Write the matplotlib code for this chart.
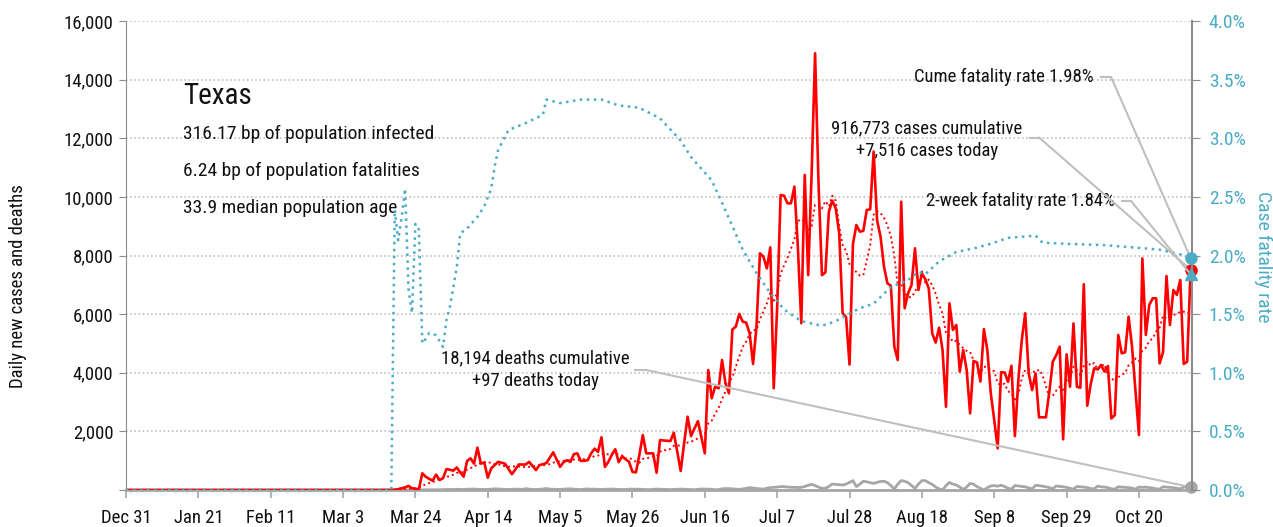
import matplotlib
matplotlib.use("Agg")
import matplotlib.pyplot as plt
import matplotlib.dates as mdates
from matplotlib import font_manager
from matplotlib.ticker import FuncFormatter, MultipleLocator
import pandas as pd


def has_font(name):
    try:
        font_manager.findfont(name, fallback_to_default=False)
        return True
    except ValueError:
        return False


# the original uses a condensed face; take the narrowest one that is installed
if has_font("Roboto Condensed"):
    plt.rcParams['font.family'] = ['Roboto Condensed', 'DejaVu Sans']
    FS_TICK, FS_TXT, FS_NOTE, FS_TITLE = 13.5, 14, 13.4, 21
elif has_font("Liberation Sans Narrow"):
    plt.rcParams['font.family'] = ['Liberation Sans Narrow', 'DejaVu Sans']
    FS_TICK, FS_TXT, FS_NOTE, FS_TITLE = 13.5, 14, 13.4, 21
else:
    plt.rcParams['font.family'] = ['Roboto', 'DejaVu Sans']
    FS_TICK, FS_TXT, FS_NOTE, FS_TITLE = 12, 12.5, 12, 19

START = "2019-12-31"
LEAD = 78  # days with no reported cases before Mar 18

# daily new cases, Mar 18 .. Nov 4
cases_data = [
    10, 30, 60, 90, 140, 60, 40, 30, 570, 450,
    380, 320, 525, 340, 400, 715, 690, 660, 770, 600,
    455, 990, 1080, 900, 1445, 900, 935, 420, 740, 850,
    960, 930, 900, 720, 540, 700, 870, 870, 870, 960,
    820, 680, 850, 880, 920, 1100, 1285, 1040, 790, 950,
    1015, 960, 1225, 1250, 990, 1000, 1015, 1250, 1410, 1300,
    1800, 790, 960, 1200, 1390, 950, 1150, 1050, 960, 620,
    600, 1200, 1875, 1250, 1250, 1250, 590, 1705, 1690, 1680,
    1670, 1955, 1300, 650, 1600, 2500, 1840, 2100, 2350, 1800,
    1250, 4095, 3130, 3525, 3470, 4435, 3640, 3300, 5480, 5575,
    6005, 5745, 5710, 5345, 4300, 5575, 8075, 7960, 7560, 8280,
    3470, 6255, 10065, 10040, 9780, 9780, 10350, 8300, 5690, 10750,
    7330, 10800, 14900, 10460, 7330, 7425, 9495, 9870, 9610, 8760,
    6030, 5900, 4280, 8400, 9040, 8815, 8840, 9555, 9575, 11545,
    9200, 8645, 7620, 7050, 6965, 4890, 4435, 9835, 6200, 6710,
    6995, 8245, 6825, 7390, 7190, 6880, 5345, 5030, 5540, 4775,
    2840, 6370, 5460, 5630, 4040, 4775, 4095, 2615, 4400, 4355,
    3700, 5490, 4775, 3300, 2390, 1420, 4020, 4010, 3690, 4240,
    1840, 3750, 5120, 6030, 3980, 3410, 3980, 2480, 2480, 2480,
    3355, 4380, 4600, 4890, 1730, 4630, 3525, 5685, 3525, 3490,
    7020, 2875, 3605, 4150, 4115, 4265, 4040, 4230, 2440, 2555,
    5290, 4665, 4700, 5915, 4890, 3400, 1875, 7900, 5290, 6310,
    6540, 6540, 4320, 4700, 7300, 5630, 6825, 6655, 7165, 4300,
    4380, 7516,
]

# daily deaths, Mar 18 .. Nov 4
deaths_data = [
    0, 1, 0, 2, 1, 3, 2,
    5, 4, 6, 8, 10, 7, 12,
    14, 18, 20, 15, 25, 22, 15,
    30, 28, 35, 22, 25, 18, 20,
    30, 40, 35, 28, 20, 18, 25,
    30, 28, 22, 45, 30, 20, 15,
    25, 35, 50, 30, 25, 20, 18,
    30, 35, 40, 28, 20, 15, 30,
    35, 25, 30, 22, 18, 25, 28,
    32, 25, 20, 18, 15, 30, 28,
    25, 30, 20, 15, 12, 25, 30,
    28, 22, 18, 15, 20, 25, 30,
    28, 20, 15, 12, 25, 35, 30,
    30, 25, 10, 15, 40, 50, 45,
    40, 30, 20, 35, 60, 80, 70,
    50, 40, 30, 60, 80, 90, 100, 115,
    115, 100, 95, 90, 85, 90, 120, 160, 190,
    150, 100, 55, 60, 120, 205, 190, 180, 170, 200, 260,
    320, 115, 200, 300, 280, 250, 225,
    260, 290, 300, 250, 150, 35, 200,
    320, 300, 250, 150, 55, 200, 320,
    320, 250, 190, 100, 40, 0, 150,
    260, 200, 170, 100, 20, 100, 225,
    200, 115, 60, 0, 80, 140, 150,
    130, 160, 120, 60, 30, 150, 140,
    120, 110, 70, 40, 160, 150, 130,
    110, 80, 40, 140, 120, 110, 90,
    60, 30, 120, 110, 100, 80, 50,
    40, 130, 110, 100, 80, 40, 30,
    110, 100, 90, 80, 60, 30, 100,
    90, 100, 80, 70, 40, 30, 110,
    100, 90, 80, 60, 40, 100, 120, 97,
]

# cumulative case fatality rate (%), read at these day offsets from Dec 31
cfr_day = [0, 77, 78, 79, 80, 81, 82, 83, 84, 85, 86, 87, 88, 90, 92, 93, 94,
           96, 97, 99, 102, 104, 106, 107, 108, 111, 116, 121, 122, 126, 132,
           138, 143, 149, 155, 161, 164, 170, 173, 176, 179, 183, 187, 191,
           196, 202, 206, 209, 213, 217, 222, 227, 230, 232, 236, 241, 246,
           251, 256, 260, 264, 266, 273, 283, 292, 300, 306, 309]
cfr_pct = [0, 0, 2.39, 2.13, 2.33, 2.57, 1.71, 1.51, 2.27, 2.22, 1.25, 1.29,
           1.34, 1.32, 1.22, 1.45, 1.56, 1.90, 2.19, 2.23, 2.33, 2.42, 2.57,
           2.76, 2.90, 3.07, 3.13, 3.20, 3.33, 3.30, 3.33, 3.33, 3.28, 3.26,
           3.17, 2.98, 2.84, 2.64, 2.45, 2.25, 2.05, 1.85, 1.68, 1.54, 1.44,
           1.40, 1.44, 1.49, 1.55, 1.59, 1.73, 1.79, 1.86, 1.84, 1.95, 2.03,
           2.06, 2.10, 2.15, 2.16, 2.17, 2.11, 2.10, 2.09, 2.07, 2.05, 2.01,
           1.98]

cume_cfr = 1.98
two_week_cfr = 1.84
x_ticks = pd.date_range(START, "2020-10-20", freq="21D")

RED = "#FF0000"
BLUE = "#4BACC6"
GRAY = "#A6A6A6"
LEAD_GRAY = "#BFBFBF"
TXT = "#111111"

cases = [0] * LEAD + cases_data
deaths = [0] * LEAD + deaths_data
dates = pd.date_range(START, periods=len(cases))
trend = pd.Series(cases, index=dates).rolling(7, min_periods=1).mean()
cfr_dates = pd.Timestamp(START) + pd.to_timedelta(cfr_day, unit="D")
last = dates[-1]

fig = plt.figure(figsize=(12.73, 5.27), dpi=100)
ax = fig.add_axes([0.099, 0.0702, 0.8374, 0.8899])
ax2 = ax.twinx()

ax.plot(dates, deaths, color=GRAY, lw=2, zorder=2)
ax.plot(dates, trend, color=RED, lw=1.4, ls=(0, (1, 1.6)), zorder=3)
ax.plot(dates, cases, color=RED, lw=1.9, zorder=4)
ax2.plot(cfr_dates, [v / 100 for v in cfr_pct], color=BLUE, lw=1.8,
         ls=(0, (1, 1.8)), zorder=3)

ax.set_xlim(dates[0], last + pd.Timedelta(hours=10))
ax.set_ylim(0, 16000)
ax2.set_ylim(0, 0.04)

ax.yaxis.set_major_locator(MultipleLocator(2000))
ax.yaxis.set_major_formatter(FuncFormatter(lambda v, p: "" if v == 0 else f"{v:,.0f}"))
ax2.yaxis.set_major_locator(MultipleLocator(0.005))
ax2.yaxis.set_major_formatter(FuncFormatter(lambda v, p: f"{v * 100:.1f}%"))
ax.set_xticks(x_ticks)
ax.xaxis.set_major_formatter(mdates.DateFormatter("%b %-d"))

ax.yaxis.grid(True, color=LEAD_GRAY, ls=(0, (1, 1.5)), lw=1.2)
ax.set_axisbelow(True)

for a in (ax, ax2):
    a.spines["top"].set_visible(False)
ax.spines["right"].set_visible(False)
ax2.spines["left"].set_visible(False)
ax2.spines["bottom"].set_visible(False)
ax.spines["left"].set_color("#8C8C8C")
ax.spines["bottom"].set_color(GRAY)
ax.spines["bottom"].set_linewidth(2)
ax2.spines["right"].set_color("#8C8C8C")
ax2.spines["right"].set_linewidth(1.5)

ax.tick_params(axis="x", length=6, color=GRAY, width=1.2, labelsize=FS_TICK,
               labelcolor=TXT, pad=8)
ax.tick_params(axis="y", length=5, color="#8C8C8C", labelsize=FS_TICK,
               labelcolor=TXT, pad=4)
ax2.tick_params(axis="y", length=6, color="#8C8C8C", labelsize=FS_TXT,
                labelcolor=BLUE, pad=6)

fig.text(18 / 1273, 1 - 286 / 527, "Daily new cases and deaths", rotation=90,
         ha="center", va="center", fontsize=FS_TICK, color=TXT)
fig.text(1263 / 1273, 1 - 257 / 527, "Case fatality rate", rotation=270,
         ha="center", va="center", fontsize=FS_TXT, color=BLUE)

# info block
ax.text(0.0535, 0.840, "Texas", transform=ax.transAxes, fontsize=FS_TITLE,
        color=TXT, va="center")
info = ["316.17 bp of population infected",
        "6.24 bp of population fatalities",
        "33.9 median population age"]
for s, fy in zip(info, [0.759, 0.680, 0.601]):
    ax.text(0.0535, fy, s, transform=ax.transAxes, fontsize=FS_TXT, color=TXT,
            va="center")


def leader(axis, target, x0, x1, fy):
    ax.plot([x0, x1], [fy, fy], transform=ax.transAxes, color=LEAD_GRAY,
            lw=1.5, zorder=5, clip_on=False)
    axis.annotate("", xy=target, xycoords="data", xytext=(x1, fy),
                  textcoords="axes fraction",
                  arrowprops=dict(arrowstyle="-", color=LEAD_GRAY, lw=1.5,
                                  shrinkA=0, shrinkB=0), zorder=5)


ax.text(0.908, 0.8806, f"Cume fatality rate {cume_cfr:.2f}%", transform=ax.transAxes,
        ha="right", va="center", fontsize=FS_NOTE, color=TXT)
leader(ax2, (last, cume_cfr / 100), 0.9146, 0.924, 0.8806)

ax.text(0.7514, 0.747, f"{916773:,} cases cumulative\n+{cases[-1]:,} cases today",
        transform=ax.transAxes, ha="center", va="center", fontsize=FS_NOTE,
        color=TXT, linespacing=1.3)
leader(ax, (last, cases[-1]), 0.848, 0.8565, 0.7516)

ax.text(0.9278, 0.6162, f"2-week fatality rate {two_week_cfr:.2f}%",
        transform=ax.transAxes, ha="right", va="center", fontsize=FS_NOTE, color=TXT)
leader(ax2, (last, two_week_cfr / 100), 0.9343, 0.9428, 0.6162)

ax.text(0.3841, 0.2569, f"{18194:,} deaths cumulative\n+{deaths[-1]} deaths today",
        transform=ax.transAxes, ha="center", va="center", fontsize=FS_NOTE,
        color=TXT, linespacing=1.3)
leader(ax, (last, deaths[-1]), 0.4775, 0.4878, 0.2559)

# end-point markers
ax.plot([last], [deaths[-1]], "o", color=GRAY, ms=8, zorder=6, clip_on=False)
ax.plot([last], [cases[-1]], "o", color=RED, ms=8, zorder=6, clip_on=False)
ax2.plot([last], [cume_cfr / 100], "o", color=BLUE, ms=8, zorder=6, clip_on=False)
ax2.plot([last], [two_week_cfr / 100], "^", color=BLUE, ms=9, zorder=7, clip_on=False)

fig.savefig("out.png", dpi=100)
